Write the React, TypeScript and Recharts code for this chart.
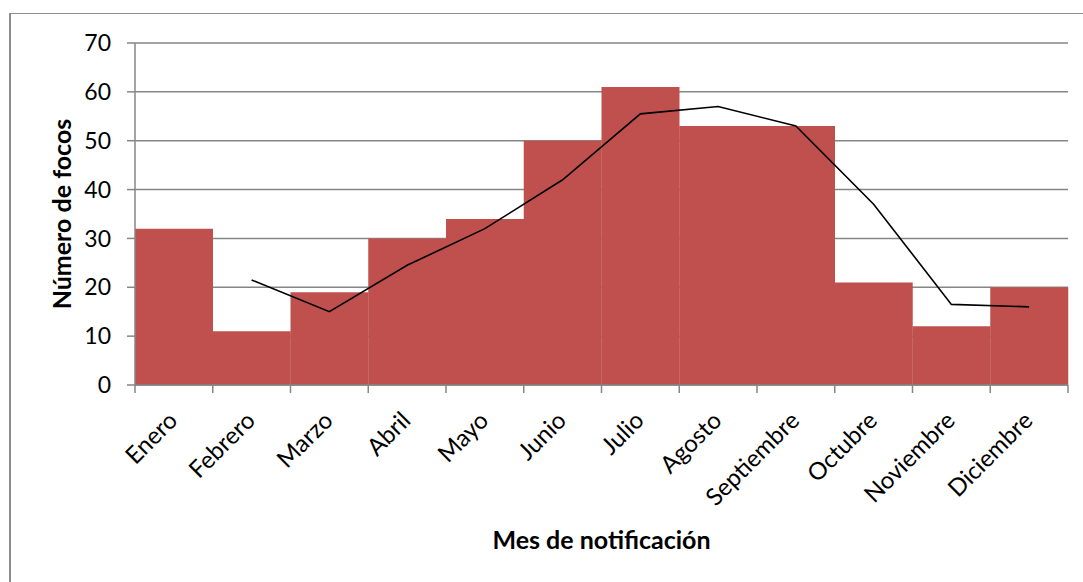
import {
  ComposedChart,
  Bar,
  Line,
  XAxis,
  YAxis,
  CartesianGrid,
} from "recharts";

const RED = "#c0504d";
const GRID = "#868686";
const FONT = "Lato, 'Open Sans', sans-serif";

const meses = [
  "Enero",
  "Febrero",
  "Marzo",
  "Abril",
  "Mayo",
  "Junio",
  "Julio",
  "Agosto",
  "Septiembre",
  "Octubre",
  "Noviembre",
  "Diciembre",
];
const focos = [32, 11, 19, 30, 34, 50, 61, 53, 53, 21, 12, 20];
// media móvil de 2 periodos
const media = [null, 21.5, 15, 24.5, 32, 42, 55.5, 57, 53, 37, 16.5, 16];
const yTicks = [0, 10, 20, 30, 40, 50, 60, 70];

const data = meses.map((mes, i) => ({ mes, focos: focos[i], media: media[i] }));

function MesTick(props: any) {
  const { x, y, payload, index } = props;
  const off = payload.offset || 0;
  const tx = x + 5;
  const ty = y + 29;
  return (
    <g>
      <line x1={x - off} x2={x - off} y1={y - 8} y2={y} stroke={GRID} strokeWidth={1.5} />
      {index === meses.length - 1 && (
        <line x1={x + off} x2={x + off} y1={y - 8} y2={y} stroke={GRID} strokeWidth={1.5} />
      )}
      <text
        x={tx}
        y={ty}
        textAnchor="end"
        fontSize={24}
        fill="#000"
        fontFamily={FONT}
        transform={`rotate(-45, ${tx}, ${ty})`}
      >
        {payload.value}
      </text>
    </g>
  );
}

function YTitle() {
  const cy = 214;
  const cx = 61;
  return (
    <text
      x={cx}
      y={cy}
      textAnchor="middle"
      dominantBaseline="central"
      fontSize={25}
      fontWeight="bold"
      fontFamily={FONT}
      fill="#000"
      transform={`rotate(-90, ${cx}, ${cy})`}
    >
      Número de focos
    </text>
  );
}

export default function App() {
  return (
    <div
      style={{
        position: "absolute",
        left: 0,
        top: 0,
        width: 1083,
        height: 582,
        background: "#fff",
        overflow: "hidden",
        fontFamily: FONT,
      }}
    >
      <div
        style={{
          position: "absolute",
          left: 9,
          top: 13,
          width: 1200,
          height: 700,
          borderLeft: "2px solid #8c8c8c",
          borderTop: "1.5px solid #8c8c8c",
        }}
      />
      <div style={{ position: "absolute", left: 0, top: 0 }}>
        <ComposedChart
          width={1083}
          height={582}
          data={data}
          margin={{ top: 43, right: 15, left: 0, bottom: 0 }}
          barCategoryGap={0}
          style={{ fontFamily: FONT }}
        >
          <CartesianGrid vertical={false} stroke={GRID} strokeWidth={1.5} />
          <XAxis
            dataKey="mes"
            height={197}
            interval={0}
            tickLine={false}
            axisLine={{ stroke: GRID, strokeWidth: 1.5 }}
            tick={<MesTick />}
            label={{
              value: "Mes de notificación",
              position: "insideBottom",
              offset: 33,
              fontSize: 25,
              fontWeight: "bold",
              fill: "#000",
              fontFamily: FONT,
            }}
          />
          <YAxis
            width={135}
            domain={[0, 70]}
            ticks={yTicks}
            interval={0}
            tickSize={8}
            tickMargin={16}
            tickLine={{ stroke: GRID, strokeWidth: 1.5 }}
            axisLine={{ stroke: GRID, strokeWidth: 1.5 }}
            tick={{ fontSize: 23, fill: "#000", fontFamily: FONT }}
            label={<YTitle />}
          />
          <Bar dataKey="focos" fill={RED} isAnimationActive={false} />
          <Line
            dataKey="media"
            stroke="#000"
            strokeWidth={1.6}
            dot={false}
            type="linear"
            isAnimationActive={false}
          />
        </ComposedChart>
      </div>
    </div>
  );
}
